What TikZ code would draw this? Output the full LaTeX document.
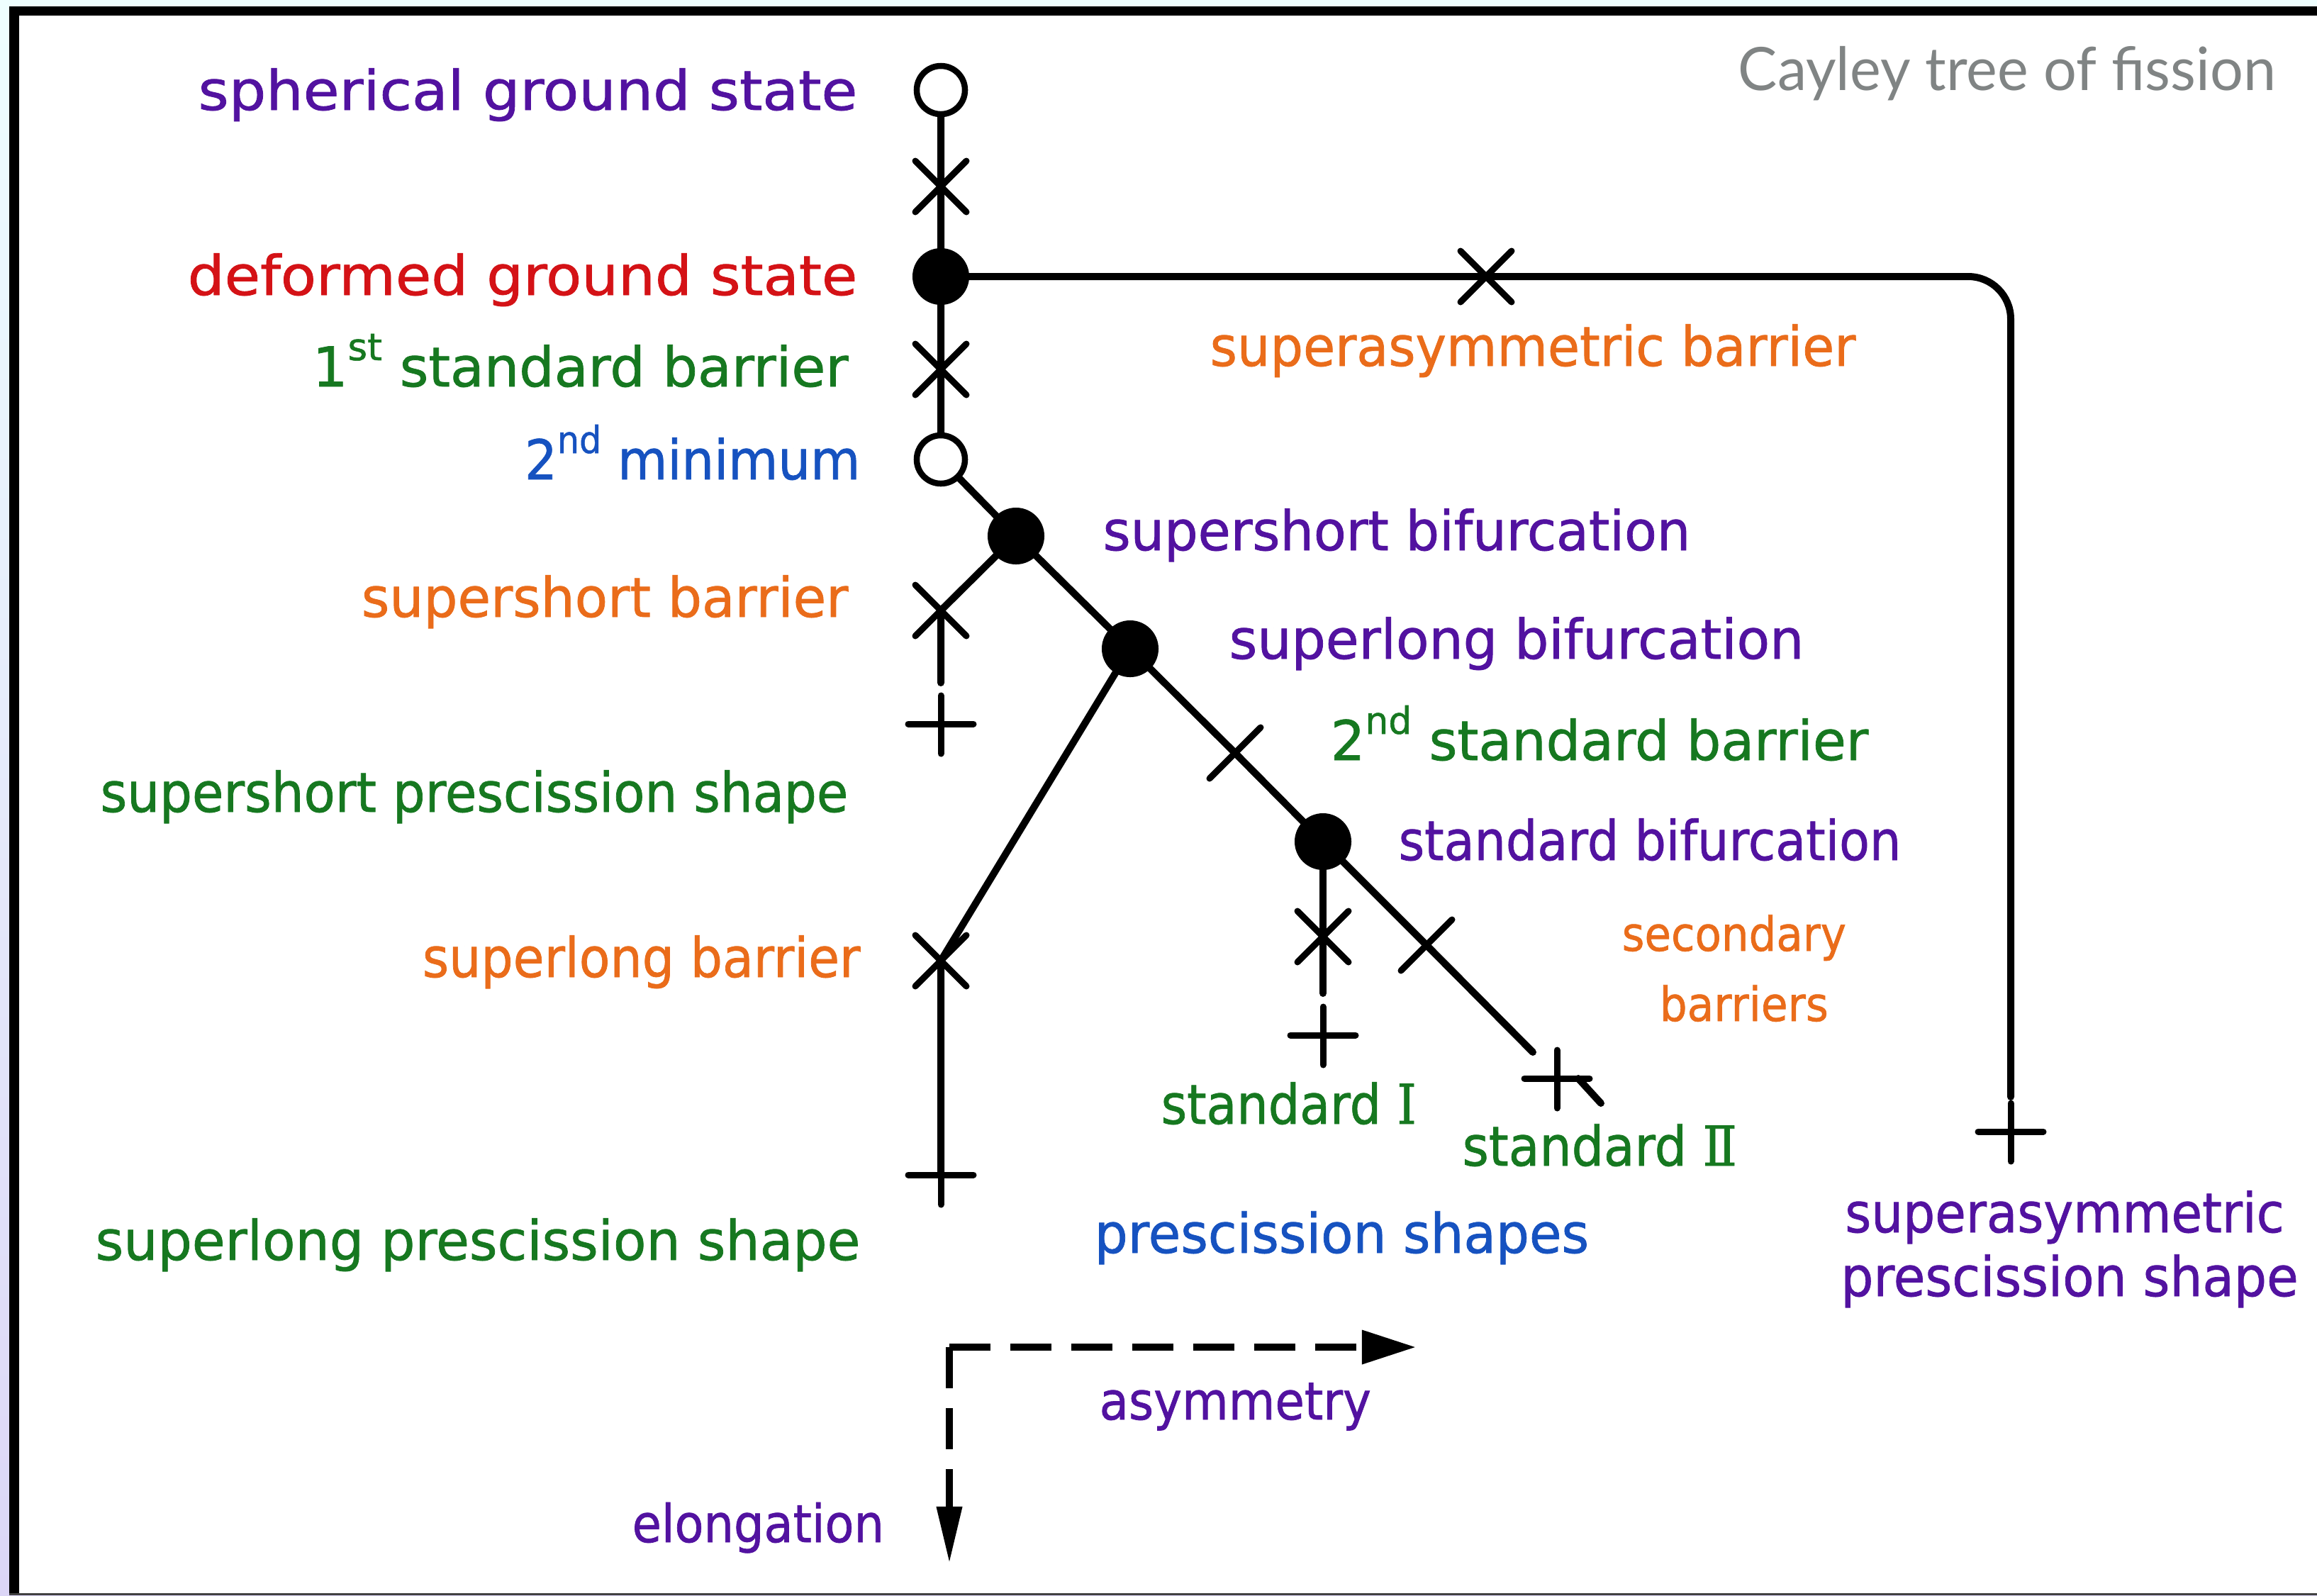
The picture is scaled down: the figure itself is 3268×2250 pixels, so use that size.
\documentclass[tikz,border=0pt]{standalone}
\usepackage{fontspec}
\usepackage{graphicx}
\usetikzlibrary{arrows.meta,backgrounds}
\newfontfamily\labfont[FakeBold=1]{DejaVu Sans}
\newfontfamily\numfont[FakeBold=1]{DejaVu Serif}
\newfontfamily\titfont{Lato}
\definecolor{cpur}{RGB}{82,18,160}
\definecolor{cred}{RGB}{212,18,22}
\definecolor{cgrn}{RGB}{22,120,32}
\definecolor{cblu}{RGB}{22,82,192}
\definecolor{corg}{RGB}{234,108,26}
\definecolor{ctit}{RGB}{128,132,132}
\definecolor{edgetop}{RGB}{238,254,254}
\definecolor{edgebot}{RGB}{220,214,247}
\newcommand\fitw[2]{\resizebox{#1}{\height}{#2}}
\newcommand\sups[1]{\raisebox{0.37cm}{\fontsize{15}{15}\selectfont #1}}
\tikzset{
  lab/.style={inner sep=0pt, font=\labfont\fontsize{22}{26}\selectfont},
  labs/.style={inner sep=0pt, font=\labfont\fontsize{19}{22}\selectfont},
  labm/.style={inner sep=0pt, font=\labfont\fontsize{21}{24}\selectfont},
  ln/.style={line width=0.10cm, line cap=round, line join=round},
  mk/.style={line width=0.09cm, line cap=round},
  opn/.style={circle, draw, line width=0.085cm, fill=white, minimum size=0.68cm, inner sep=0pt},
  fld/.style={circle, fill=black, minimum size=0.80cm, inner sep=0pt},
  xmk/.pic={\draw[mk] (-36,-36) -- (36,36) (-36,36) -- (36,-36);},
  pmk/.pic={\draw[mk] (-46,0) -- (46,0) (0,-40) -- (0,42);},
  axis/.style={line width=0.10cm, dash pattern=on 0.58cm off 0.28cm},
}
\begin{document}
\begin{tikzpicture}[x=0.01cm, y=-0.01cm]
\useasboundingbox (0,0) rectangle (3268,2250);
% frame
\begin{scope}[on background layer]
\shade[top color=edgetop, bottom color=edgebot] (0,0) rectangle (3268,2250);
\fill[white] (27,22) rectangle (3268,2247);
\fill[black] (13,9) rectangle (3268,22);
\fill[black] (13,9) rectangle (27,2250);
\fill[black!75] (13,2247) rectangle (3268,2250);
\end{scope}

% states and bifurcations
\node[opn] (sgs) at (1327,127) {};
\coordinate (x1) at (1327,263);
\node[fld] (dgs) at (1327,390) {};
\coordinate (x2) at (1327,521);
\node[opn] (min2) at (1327,648) {};
\node[fld] (ssb) at (1433,756) {};
\node[fld] (slb) at (1594,915) {};
\coordinate (x3) at (1742,1062);
\node[fld] (sb) at (1866,1187) {};
\coordinate (x4) at (2012,1333);
\coordinate (dend) at (2162,1484);
\coordinate (p5) at (2196,1521);
\coordinate (tail0) at (2226,1521);
\coordinate (tail1) at (2258,1556);
\coordinate (ssx) at (1327,861);
\coordinate (ssgap) at (1327,963);
\coordinate (p1) at (1327,1021);
\coordinate (slx) at (1327,1355);
\coordinate (p2) at (1327,1657);
\coordinate (sx) at (1866,1321);
\coordinate (sgap) at (1866,1401);
\coordinate (p3) at (1866,1460);
\coordinate (sax) at (2096,390);
\coordinate (sacorner) at (2836,390);
\coordinate (sagap) at (2836,1547);
\coordinate (p4) at (2836,1596);

% barrier and scission markers
\pic at (x1) {xmk};
\pic at (x2) {xmk};
\pic at (x3) {xmk};
\pic at (x4) {xmk};
\pic at (ssx) {xmk};
\pic at (slx) {xmk};
\pic at (sx) {xmk};
\pic at (sax) {xmk};
\pic at (p1) {pmk};
\pic at (p2) {pmk};
\pic at (p3) {pmk};
\pic at (p4) {pmk};
\pic at (p5) {pmk};

% connectors
\begin{scope}[on background layer]
\draw[ln] (sgs.center) -- (x1) -- (dgs.center) -- (x2) -- (min2.center) -- (ssb.center) -- (slb.center) -- (x3) -- (sb.center) -- (x4) -- (dend);
\draw[ln] (tail0) -- (tail1);
\draw[ln] (ssb.center) -- (ssx) -- (ssgap);
\draw[ln] (slb.center) -- (slx) -- (p2);
\draw[ln] (sb.center) -- (sx) -- (sgap);
\draw[ln, rounded corners=0.6cm] (dgs.center) -- (sax) -- (sacorner) -- (sagap);
\end{scope}

% axes
\coordinate (ax0) at (1339,1900);
\coordinate (axh) at (1997,1900);
\coordinate (axv) at (1339,2205);
\draw[axis, -{Triangle[length=0.76cm,width=0.46cm]}] (ax0) -- (axh);
\draw[axis, -{Triangle[length=0.8cm,width=0.34cm]}] (ax0) -- (axv);

% labels left
\node[lab, text=cpur, anchor=base east] (lsgs) at (1210,155) {\fitw{9.29cm}{spherical ground state}};
\node[lab, text=cred, anchor=base east] (ldgs) at (1210,416) {\fitw{9.44cm}{deformed ground state}};
\node[lab, text=cgrn, anchor=base east] (l1st) at (1197,545) {\fitw{7.55cm}{1\sups{st} standard barrier}};
\node[lab, text=cblu, anchor=base east] (l2min) at (1214,676) {\fitw{4.73cm}{2\sups{nd} minimum}};
\node[lab, text=corg, anchor=base east] (lssbar) at (1197,870) {\fitw{6.86cm}{supershort barrier}};
\node[lab, text=cgrn, anchor=base east] (lssps) at (1197,1145) {\fitw{10.54cm}{supershort prescission shape}};
\node[lab, text=corg, anchor=base east] (lslbar) at (1214,1378) {\fitw{6.17cm}{superlong barrier}};
\node[lab, text=cgrn, anchor=base east] (lslps) at (1214,1777) {\fitw{10.78cm}{superlong prescission shape}};

% labels right
\node[lab, text=corg, anchor=base west] (lsabar) at (1706,516) {\fitw{9.10cm}{superasymmetric barrier}};
\node[lab, text=cpur, anchor=base west] (lssb) at (1555,776) {\fitw{8.28cm}{supershort bifurcation}};
\node[lab, text=cpur, anchor=base west] (lslb) at (1733,929) {\fitw{8.10cm}{superlong bifurcation}};
\node[lab, text=cgrn, anchor=base west] (l2sb) at (1876,1072) {\fitw{7.58cm}{2\sups{nd} standard barrier}};
\node[lab, text=cpur, anchor=base west] (lsb) at (1972,1213) {\fitw{7.08cm}{standard bifurcation}};
\node[labs, text=corg, anchor=base west] (lsec1) at (2287,1341) {\fitw{3.16cm}{secondary}};
\node[labs, text=corg, anchor=base west] (lsec2) at (2340,1440) {\fitw{2.38cm}{barriers}};
\node[lab, text=cgrn, anchor=base west] (lstdI) at (1637,1585) {\fitw{3.60cm}{standard {\numfont Ⅰ}}};
\node[lab, text=cgrn, anchor=base west] (lstdII) at (2062,1644) {\fitw{3.87cm}{standard {\numfont Ⅱ}}};
\node[lab, text=cblu, anchor=base west] (lps) at (1543,1767) {\fitw{6.97cm}{prescission shapes}};
\node[lab, text=cpur, anchor=base] (lsaps1) at (2912,1738) {\fitw{6.19cm}{superasymmetric}};
\node[lab, text=cpur, anchor=base] (lsaps2) at (2919,1828) {\fitw{6.45cm}{prescission shape}};
\node[labm, text=cpur, anchor=base west] (lasym) at (1550,2002) {\fitw{3.83cm}{asymmetry}};
\node[labm, text=cpur, anchor=base west] (lelong) at (891,2175) {\fitw{3.55cm}{elongation}};

% title
\node[inner sep=0pt, anchor=base east, text=ctit, font=\titfont\fontsize{24}{28}\selectfont] (title) at (3211,127) {\fitw{7.58cm}{Cayley tree of fission}};
\end{tikzpicture}
\end{document}
